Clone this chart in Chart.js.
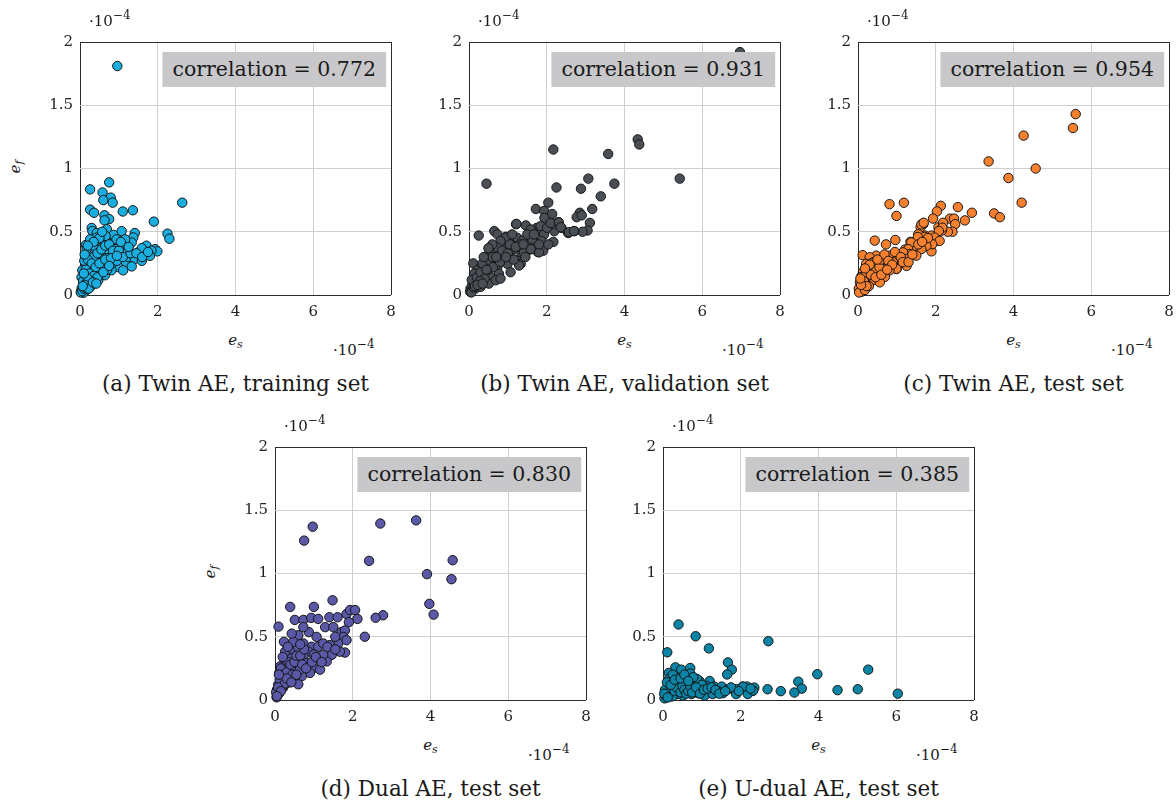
<!DOCTYPE html>
<html>
<head>
<meta charset="utf-8">
<script src="https://cdn.jsdelivr.net/npm/chart.js@4.4.0/dist/chart.umd.min.js"></script>
<style>
  body { margin: 0; background: #fff; }
  #fig { position: relative; width: 1176px; height: 803px; font-family: "DejaVu Serif", serif; color: #1a1a1a; }
  #fig canvas { position: absolute; }
  .lbl { position: absolute; white-space: nowrap; transform: translate(-50%, -50%); }
  .mult { position: absolute; font-size: 15px; white-space: nowrap; transform: translateY(-50%); }
  .mult sup { font-size: 12px; vertical-align: 7px; line-height: 0; }
  .axis { font-size: 15px; font-style: italic; }
  .axis sub { font-size: 11px; vertical-align: -3px; line-height: 0; }
  .cap { font-size: 21.5px; }
  .corr { position: absolute; background: #c8c8cb; font-size: 20.5px; height: 35px; line-height: 35px; padding: 0 10px; white-space: nowrap; transform: translateX(-100%); }
</style>
</head>
<body>
<div id="fig"></div>
<script>
// values are in units of 1e-4 (as on the axes)
const captions = [
  "(a) Twin AE, training set",
  "(b) Twin AE, validation set",
  "(c) Twin AE, test set",
  "(d) Dual AE, test set",
  "(e) U-dual AE, test set",
];
const correlations = ["0.772", "0.931", "0.954", "0.830", "0.385"];
const colors = ["#1aaee0", "#4a4f56", "#f7802f", "#5a59a8", "#0b84a6"];
const xTicks = [0, 2, 4, 6, 8];
const yTicks = [0, 0.5, 1, 1.5, 2];

const twinTrain = [
  [0.96, 1.81], [2.63, 0.73], [0.75, 0.89], [0.26, 0.835], [0.58, 0.81], [0.79, 0.77],
  [0.6, 0.75], [0.84, 0.73], [0.26, 0.675], [0.36, 0.65], [1.1, 0.66], [1.36, 0.67],
  [0.63, 0.63], [0.75, 0.6], [0.63, 0.59], [1.9, 0.58], [0.3, 0.53], [0.32, 0.505],
  [0.43, 0.49], [0.69, 0.52], [1.07, 0.505], [1.41, 0.49], [1.37, 0.455], [2.25, 0.485],
  [2.3, 0.445], [0.15, 0.395], [0.51, 0.43], [0.56, 0.375], [0.73, 0.455], [0.86, 0.475],
  [0.69, 0.415], [0.99, 0.4], [1.16, 0.39], [1.33, 0.415], [1.71, 0.39], [1.93, 0.363],
  [1.99, 0.345], [1.84, 0.35], [1.67, 0.325], [1.5, 0.337], [1.54, 0.3], [1.33, 0.27],
  [1.16, 0.246], [0.99, 0.22], [0.81, 0.195], [0.64, 0.156], [0.47, 0.117], [0.3, 0.078],
  [0.17, 0.04], [0.09, 0.018], [0.21, 0.324], [0.39, 0.35], [0.51, 0.3], [0.73, 0.324],
  [0.9, 0.3], [1.07, 0.324], [1.24, 0.3], [1.41, 0.285], [0.39, 0.27], [0.6, 0.26],
  [0.81, 0.246], [0.26, 0.246], [0.13, 0.22], [0.21, 0.17], [0.39, 0.195], [0.51, 0.17],
  [0.3, 0.13], [0.13, 0.117], [0.17, 0.078], [0.04, 0.05], [0.09, 0.09], [0.04, 0.14],
  [0.06, 0.195], [0.11, 0.27], [0.17, 0.363], [0.34, 0.39], [0.69, 0.363], [0.9, 0.363],
  [1.24, 0.363], [1.59, 0.37], [0.94, 0.44], [1.16, 0.44], [0.66, 0.467], [0.43, 0.454],
  [0.26, 0.44], [0.03, 0.026], [0.02, 0.02], [1.11, 0.195], [1.33, 0.226], [1.59, 0.27],
  [1.8, 0.31], [0.06, 0.03], [0.1, 0.05], [0.14, 0.06], [0.08, 0.11], [0.2, 0.1],
  [0.25, 0.06], [0.45, 0.24], [0.7, 0.2], [0.95, 0.27], [1.2, 0.34], [0.55, 0.21],
  [0.35, 0.3], [0.45, 0.33], [0.55, 0.36], [0.65, 0.39], [0.75, 0.4], [0.85, 0.35],
  [1.0, 0.35], [1.1, 0.3], [1.3, 0.33], [1.45, 0.33], [1.6, 0.3], [1.75, 0.34],
  [0.2, 0.28], [0.3, 0.25], [0.4, 0.22], [0.5, 0.25], [0.65, 0.28], [0.8, 0.29],
  [0.95, 0.31], [0.15, 0.2], [0.25, 0.17], [0.35, 0.15], [0.45, 0.14], [0.6, 0.18],
  [0.75, 0.23], [0.2, 0.13], [0.1, 0.17], [0.12, 0.08], [0.22, 0.05], [0.07, 0.07],
  [0.33, 0.1], [0.42, 0.09], [0.5, 0.45], [0.35, 0.42], [0.12, 0.32], [1.05, 0.42],
  [1.25, 0.38], [0.57, 0.5], [0.2, 0.39],
];

const twinVal = [
  [6.97, 1.92], [4.34, 1.23], [4.38, 1.19], [2.17, 1.15], [3.58, 1.115], [5.42, 0.92],
  [0.45, 0.88], [3.07, 0.92], [2.25, 0.85], [2.88, 0.84], [3.74, 0.88], [3.39, 0.78],
  [2.04, 0.73], [3.17, 0.68], [1.72, 0.68], [1.93, 0.665], [2.14, 0.64], [2.85, 0.65],
  [2.77, 0.615], [2.9, 0.63], [3.11, 0.57], [3.05, 0.51], [2.92, 0.5], [2.71, 0.505],
  [2.55, 0.49], [2.3, 0.575], [2.38, 0.53], [2.19, 0.505], [2.14, 0.56], [1.94, 0.61],
  [1.21, 0.56], [1.46, 0.55], [0.25, 0.47], [0.11, 0.25], [0.65, 0.505], [0.73, 0.48],
  [0.95, 0.46], [1.16, 0.435], [1.64, 0.435], [1.74, 0.53], [1.87, 0.505], [2.17, 0.42],
  [1.91, 0.35], [1.77, 0.34], [1.57, 0.36], [1.35, 0.32], [1.14, 0.36], [0.94, 0.453],
  [1.5, 0.427], [1.63, 0.44], [1.93, 0.479], [1.86, 0.427], [1.71, 0.375], [1.8, 0.337],
  [1.41, 0.337], [1.24, 0.453], [1.37, 0.427], [1.11, 0.479], [0.51, 0.324], [0.64, 0.35],
  [0.47, 0.285], [0.77, 0.31], [0.9, 0.324], [1.07, 0.298], [1.24, 0.272], [0.9, 0.272],
  [0.69, 0.259], [0.56, 0.233], [0.39, 0.207], [0.26, 0.168], [0.17, 0.13], [0.09, 0.09],
  [0.04, 0.052], [0.03, 0.026], [0.34, 0.155], [0.47, 0.181], [0.73, 0.22], [0.99, 0.246],
  [1.33, 0.246], [0.43, 0.246], [0.3, 0.22], [0.21, 0.194], [0.13, 0.168], [0.26, 0.117],
  [0.39, 0.104], [0.56, 0.142], [0.77, 0.168], [0.13, 0.09], [0.09, 0.039], [0.17, 0.052],
  [0.3, 0.065], [0.51, 0.09], [0.69, 0.117], [0.81, 0.13], [1.07, 0.18], [1.29, 0.233],
  [1.59, 0.518], [1.84, 0.544], [2.01, 0.531], [1.8, 0.4], [1.5, 0.479], [1.67, 0.479],
  [1.22, 0.562], [0.99, 0.375], [0.81, 0.427], [0.73, 0.375], [1.33, 0.4], [1.59, 0.363],
  [2.1, 0.57], [2.31, 0.575], [2.36, 0.536], [2.57, 0.497], [2.7, 0.505], [2.04, 0.4],
  [0.06, 0.02], [0.12, 0.06], [0.2, 0.1], [0.07, 0.12],
  [0.2, 0.14], [0.3, 0.18], [0.35, 0.25], [0.5, 0.2], [0.55, 0.27], [0.6, 0.3],
  [0.62, 0.22], [0.8, 0.26], [0.85, 0.35], [1.0, 0.33], [1.05, 0.4], [1.15, 0.28],
  [1.2, 0.38], [0.4, 0.13], [0.45, 0.2], [0.28, 0.11], [0.15, 0.07], [0.22, 0.08],
  [0.35, 0.09], [0.7, 0.3], [0.95, 0.3], [1.4, 0.4], [1.45, 0.3], [0.6, 0.4],
  [0.5, 0.37], [0.38, 0.3],
];

const twinTest = [
  [5.6, 1.43], [5.53, 1.32], [4.26, 1.26], [3.36, 1.056], [4.57, 1.0], [3.87, 0.925],
  [4.21, 0.73], [3.5, 0.645], [3.65, 0.615], [2.93, 0.65], [2.57, 0.695], [0.81, 0.718],
  [1.18, 0.729], [0.99, 0.625], [2.13, 0.705], [2.03, 0.661], [2.75, 0.59], [2.37, 0.604],
  [2.47, 0.604], [2.5, 0.56], [2.43, 0.5], [2.31, 0.5], [2.16, 0.55], [2.16, 0.51],
  [2.07, 0.535], [1.93, 0.604], [1.68, 0.56], [1.61, 0.535], [1.89, 0.47], [2.06, 0.43],
  [1.89, 0.345], [1.72, 0.47], [1.74, 0.41], [1.55, 0.48], [1.35, 0.42], [1.21, 0.36],
  [1.45, 0.35], [0.43, 0.43], [0.72, 0.4], [0.96, 0.435], [0.12, 0.315], [0.09, 0.15],
  [1.0, 0.3], [0.85, 0.29], [0.48, 0.3], [1.25, 0.23], [0.99, 0.205], [0.74, 0.22],
  [0.31, 0.12], [0.12, 0.065], [2.19, 0.571], [2.17, 0.532], [2.08, 0.506], [1.97, 0.454],
  [2.1, 0.428], [1.91, 0.402], [1.71, 0.459], [1.54, 0.459], [1.76, 0.389], [1.63, 0.363],
  [1.46, 0.389], [1.37, 0.415], [1.29, 0.363], [1.5, 0.311], [1.33, 0.324], [1.16, 0.337],
  [1.24, 0.285], [1.07, 0.246], [0.99, 0.298], [0.81, 0.311], [0.64, 0.298], [0.47, 0.311],
  [0.3, 0.298], [0.9, 0.259], [0.73, 0.246], [0.56, 0.259], [0.39, 0.259], [0.21, 0.246],
  [0.99, 0.207], [0.81, 0.194], [0.64, 0.207], [0.47, 0.194], [0.3, 0.194], [0.13, 0.182],
  [0.09, 0.143], [0.26, 0.156], [0.51, 0.156], [0.69, 0.143], [0.39, 0.117], [0.21, 0.091],
  [0.13, 0.065], [0.04, 0.039], [0.09, 0.026], [0.02, 0.05], [0.56, 0.1], [0.03, 0.02],
  [0.18, 0.04], [0.28, 0.07], [0.05, 0.1], [1.63, 0.558], [1.69, 0.571],
  [0.35, 0.25], [0.42, 0.2], [0.55, 0.22], [0.6, 0.28], [0.68, 0.32], [0.78, 0.27],
  [0.88, 0.24], [0.95, 0.34], [1.1, 0.3], [1.15, 0.26], [1.3, 0.26], [1.4, 0.32],
  [0.2, 0.16], [0.25, 0.22], [0.33, 0.16], [0.45, 0.14], [0.15, 0.11], [0.22, 0.07],
  [0.08, 0.08], [0.6, 0.16], [0.75, 0.2], [0.5, 0.28], [0.3, 0.24], [0.18, 0.21],
  [0.06, 0.13], [1.55, 0.4], [1.8, 0.45], [1.65, 0.42],
];

const dualTest = [
  [3.63, 1.42], [2.71, 1.395], [0.97, 1.37], [0.75, 1.26], [2.42, 1.1], [4.57, 1.105],
  [3.91, 0.995], [4.54, 0.955], [3.97, 0.76], [4.08, 0.675], [2.78, 0.67], [2.59, 0.65],
  [2.31, 0.5], [0.09, 0.58], [0.39, 0.736], [1.0, 0.736], [1.48, 0.788], [0.51, 0.633],
  [0.73, 0.633], [0.93, 0.649], [1.11, 0.641], [1.4, 0.654], [1.61, 0.654], [1.84, 0.68],
  [1.93, 0.711], [2.06, 0.711], [2.12, 0.641], [1.9, 0.615], [0.23, 0.46], [0.6, 0.512],
  [0.87, 0.537], [0.73, 0.576], [1.29, 0.576], [1.5, 0.576], [1.71, 0.537], [1.8, 0.55],
  [1.76, 0.499], [1.63, 0.447], [1.84, 0.473], [1.8, 0.375], [1.67, 0.382], [1.46, 0.357],
  [1.33, 0.305], [1.16, 0.331], [0.94, 0.421], [0.86, 0.382], [0.73, 0.344], [0.56, 0.395],
  [0.39, 0.382], [0.26, 0.382], [0.26, 0.318], [0.43, 0.331], [0.6, 0.292], [0.81, 0.292],
  [0.99, 0.253], [1.16, 0.24], [0.9, 0.214], [0.69, 0.189], [0.51, 0.163], [0.34, 0.137],
  [0.21, 0.098], [0.13, 0.072], [0.06, 0.047], [0.04, 0.021], [0.17, 0.137], [0.11, 0.214],
  [0.21, 0.24], [0.13, 0.266], [0.34, 0.24], [0.47, 0.227], [0.6, 0.124], [0.26, 0.176],
  [1.11, 0.421], [1.24, 0.447], [1.41, 0.434], [1.07, 0.499], [0.73, 0.447], [0.47, 0.46],
  [0.43, 0.525], [0.3, 0.279], [0.64, 0.24], [1.24, 0.357], [0.05, 0.08], [0.08, 0.12],
  [0.1, 0.05], [0.16, 0.18], [0.03, 0.06], [0.38, 0.2], [1.0, 0.36], [1.55, 0.5],
  [0.15, 0.25], [0.2, 0.2], [0.3, 0.22], [0.35, 0.3], [0.4, 0.28], [0.45, 0.2],
  [0.5, 0.3], [0.55, 0.35], [0.65, 0.35], [0.7, 0.28], [0.75, 0.4], [0.8, 0.25],
  [0.95, 0.3], [1.05, 0.34], [1.2, 0.3], [0.12, 0.16], [0.18, 0.1], [0.25, 0.13],
  [0.3, 0.17], [0.42, 0.14], [0.08, 0.1], [0.1, 0.2], [0.55, 0.2], [0.65, 0.44],
  [0.33, 0.42], [0.2, 0.34], [0.15, 0.07], [0.05, 0.03], [1.35, 0.42], [1.55, 0.4],
];

const uDualTest = [
  [0.4, 0.597], [0.84, 0.504], [2.71, 0.465], [1.18, 0.408], [0.11, 0.377], [1.67, 0.297],
  [1.77, 0.24], [1.65, 0.202], [5.28, 0.24], [3.97, 0.204], [3.48, 0.145], [3.57, 0.09],
  [3.38, 0.059], [3.03, 0.07], [2.69, 0.085], [4.49, 0.078], [5.01, 0.085], [6.04, 0.05],
  [0.32, 0.258], [0.47, 0.24], [0.7, 0.253], [0.15, 0.214], [0.7, 0.209], [0.17, 0.168],
  [0.38, 0.176], [0.83, 0.171], [0.94, 0.15], [1.2, 0.15], [0.56, 0.137], [0.3, 0.137],
  [0.13, 0.098], [0.26, 0.085], [0.43, 0.098], [0.64, 0.09], [0.9, 0.106], [1.11, 0.111],
  [1.32, 0.106], [1.51, 0.106], [1.67, 0.085], [1.88, 0.085], [2.05, 0.106], [2.16, 0.106],
  [2.35, 0.098], [2.31, 0.072], [2.18, 0.047], [1.88, 0.047], [1.54, 0.054], [1.41, 0.072],
  [1.2, 0.059], [1.07, 0.034], [0.9, 0.054], [0.73, 0.047], [0.51, 0.034], [0.34, 0.047],
  [0.2, 0.028], [0.09, 0.021], [0.04, 0.013], [0.38, 0.047], [0.81, 0.072], [0.98, 0.085],
  [1.28, 0.047], [0.88, 0.165], [0.78, 0.18], [0.16, 0.17], [0.22, 0.11], [2.06, 0.105],
  [2.32, 0.075], [0.06, 0.04], [0.12, 0.06], [0.6, 0.12], [0.25, 0.2], [0.48, 0.07],
  [1.0, 0.12], [1.75, 0.1], [0.05, 0.08], [0.1, 0.14],
  [0.1, 0.05], [0.15, 0.04], [0.2, 0.06], [0.25, 0.03], [0.3, 0.07], [0.35, 0.1],
  [0.45, 0.06], [0.5, 0.11], [0.55, 0.08], [0.6, 0.05], [0.65, 0.07], [0.7, 0.11],
  [0.75, 0.06], [0.85, 0.1], [0.95, 0.05], [1.05, 0.08], [1.15, 0.09], [1.25, 0.1],
  [1.35, 0.08], [1.45, 0.05], [1.6, 0.07], [1.95, 0.07], [2.25, 0.09], [0.2, 0.12],
  [0.3, 0.16], [0.45, 0.17], [0.55, 0.2], [0.65, 0.15], [0.08, 0.03], [0.03, 0.05],
  [0.12, 0.02],
];

const series = [twinTrain, twinVal, twinTest, dualTest, uDualTest];

// plot area placement of each panel on the page
const panels = [
  { left: 80, top: 38, yTitle: true },
  { left: 469, top: 38, yTitle: false },
  { left: 858, top: 38, yTitle: false },
  { left: 275, top: 443, yTitle: true },
  { left: 663, top: 443, yTitle: false },
];
const plotW = 311;
const plotH = 257;
const padL = 50, padT = 12, padR = 14, padB = 30;

const fig = document.getElementById("fig");
const tickFont = { family: "DejaVu Serif", size: 15 };

const addDiv = (cls, html, style) => {
  const d = document.createElement("div");
  d.className = cls;
  d.innerHTML = html;
  Object.assign(d.style, style);
  fig.appendChild(d);
};

const frameColor = (lo, hi) => (ctx) =>
  ctx.tick && (ctx.tick.value === lo || ctx.tick.value === hi) ? "#2b2b2b" : "#cfcfcf";

panels.forEach((p, i) => {
  const canvas = document.createElement("canvas");
  canvas.width = padL + plotW + padR;
  canvas.height = padT + plotH + padB;
  canvas.style.left = p.left - padL + "px";
  canvas.style.top = p.top - padT + "px";
  fig.appendChild(canvas);

  new Chart(canvas, {
    type: "scatter",
    data: {
      datasets: [
        {
          data: series[i].map(([x, y]) => ({ x, y })),
          backgroundColor: colors[i],
          borderColor: "#151515",
          borderWidth: 1,
          pointRadius: 4.7,
          clip: false,
        },
      ],
    },
    options: {
      responsive: false,
      animation: false,
      events: [],
      layout: { padding: { top: padT, right: padR, left: 0, bottom: 0 } },
      plugins: { legend: { display: false }, tooltip: { enabled: false } },
      scales: {
        x: {
          type: "linear",
          min: xTicks[0],
          max: xTicks[xTicks.length - 1],
          afterBuildTicks: (s) => { s.ticks = xTicks.map((v) => ({ value: v })); },
          ticks: { color: "#222", font: tickFont, padding: 8, maxRotation: 0, callback: (v) => String(v) },
          grid: { color: frameColor(0, 8), lineWidth: 1, drawTicks: false },
          border: { display: false },
          afterFit: (s) => { s.height = padB; },
        },
        y: {
          type: "linear",
          min: yTicks[0],
          max: yTicks[yTicks.length - 1],
          afterBuildTicks: (s) => { s.ticks = yTicks.map((v) => ({ value: v })); },
          ticks: { color: "#222", font: tickFont, padding: 7, callback: (v) => String(v) },
          grid: { color: frameColor(0, 2), lineWidth: 1, drawTicks: false },
          border: { display: false },
          afterFit: (s) => { s.width = padL; },
        },
      },
    },
  });

  const cx = p.left + plotW / 2;
  const bottom = p.top + plotH;
  addDiv("mult", "·10<sup>−4</sup>", { left: p.left + 9 + "px", top: p.top - 17 + "px" });
  addDiv("mult", "·10<sup>−4</sup>", { left: p.left + plotW - 58 + "px", top: bottom + 55 + "px" });
  addDiv("lbl axis", "e<sub>s</sub>", { left: cx + "px", top: bottom + 45 + "px" });
  if (p.yTitle) {
    addDiv("lbl axis", "e<sub>f</sub>", {
      left: p.left - 65 + "px",
      top: p.top + plotH / 2 + "px",
      transform: "translate(-50%, -50%) rotate(-90deg)",
    });
  }
  addDiv("lbl cap", captions[i], { left: cx + "px", top: bottom + 88 + "px" });
  addDiv("corr", "correlation = " + correlations[i], {
    left: p.left + plotW - 5 + "px",
    top: p.top + 14 + "px",
  });
});
</script>
</body>
</html>
